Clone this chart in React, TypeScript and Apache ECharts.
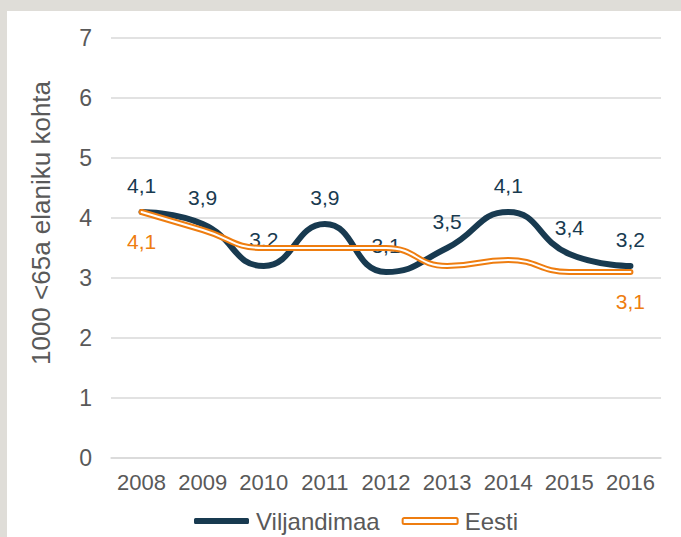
import React, { useEffect, useRef } from "react";
import * as echarts from "echarts";

const years = ["2008", "2009", "2010", "2011", "2012", "2013", "2014", "2015", "2016"];
const viljandimaa = [4.1, 3.9, 3.2, 3.9, 3.1, 3.5, 4.1, 3.4, 3.2];
const eesti = [4.1, 3.8, 3.5, 3.5, 3.5, 3.2, 3.3, 3.1, 3.1];
const yTicks = [0, 1, 2, 3, 4, 5, 6, 7];
const yTitle = "1000 <65a elaniku kohta";

const NAVY = "#183a50";
const ORANGE = "#ee7d10";
const GREY = "#595959";
const FONT = "Liberation Sans, Arial, sans-serif";

const fmt = (v: number) => v.toFixed(1).replace(".", ",");

export default function App() {
  const ref = useRef<HTMLDivElement>(null);
  useEffect(() => {
    if (!ref.current) return;
    const chart = echarts.init(ref.current, null, { renderer: "svg" });
    const last = eesti.length - 1;
    chart.setOption({
      animation: false,
      textStyle: { fontFamily: FONT },
      grid: { left: 104, right: 20, top: 27, bottom: 79, containLabel: false },
      xAxis: {
        type: "category",
        data: years,
        boundaryGap: true,
        axisLine: { show: true, lineStyle: { color: "#d9d9d9", width: 1.5 } },
        axisTick: { show: false },
        axisLabel: {
          color: GREY,
          fontSize: 22,
          margin: 13,
          fontFamily: FONT,
          interval: 0,
          hideOverlap: false,
        },
      },
      yAxis: {
        type: "value",
        min: yTicks[0],
        max: yTicks[yTicks.length - 1],
        interval: 1,
        axisLine: { show: false },
        axisTick: { show: false },
        axisLabel: { color: GREY, fontSize: 23, margin: 19, fontFamily: FONT },
        splitLine: { lineStyle: { color: "#d9d9d9", width: 1.5 } },
      },
      legend: {
        left: 182,
        top: 493,
        itemWidth: 55,
        itemHeight: 6,
        itemGap: 22,
        textStyle: { color: GREY, fontSize: 24, fontFamily: FONT, padding: [0, 0, 0, 2] },
        data: [
          { name: "Viljandimaa", icon: "roundRect", itemStyle: { color: NAVY, borderWidth: 0 } },
          {
            name: "Eesti",
            icon: "roundRect",
            itemStyle: { color: "#ffffff", borderColor: ORANGE, borderWidth: 2 },
          },
        ],
      },
      graphic: [
        {
          type: "text",
          x: 34,
          y: 212,
          rotation: Math.PI / 2,
          style: {
            text: yTitle,
            fill: GREY,
            fontSize: 26,
            fontFamily: FONT,
            align: "center",
            verticalAlign: "middle",
          },
        },
      ],
      series: [
        {
          name: "Viljandimaa",
          type: "line",
          data: viljandimaa,
          smooth: 0.5,
          symbol: "circle",
          symbolSize: 1,
          itemStyle: { color: NAVY },
          lineStyle: { color: NAVY, width: 6, cap: "round" },
          label: {
            show: true,
            position: "top",
            distance: 16,
            color: NAVY,
            fontSize: 21,
            fontFamily: FONT,
            formatter: (p: any) => fmt(p.value),
          },
          z: 2,
        },
        {
          name: "Eesti",
          type: "line",
          data: eesti.map((v, i) => ({
            value: v,
            label: { show: i === 0 || i === last },
          })),
          smooth: 0.5,
          symbol: "circle",
          symbolSize: 1,
          itemStyle: { color: ORANGE },
          lineStyle: { color: ORANGE, width: 6, cap: "round" },
          label: {
            show: false,
            position: "bottom",
            distance: 18,
            color: ORANGE,
            fontSize: 21,
            fontFamily: FONT,
            formatter: (p: any) => fmt(p.value),
          },
          z: 3,
        },
        {
          name: "EestiInner",
          type: "line",
          data: eesti,
          smooth: 0.5,
          symbol: "none",
          silent: true,
          lineStyle: { color: "#ffffff", width: 2, cap: "round" },
          z: 4,
        },
      ],
    });
    return () => chart.dispose();
  }, []);

  return (
    <div
      style={{
        position: "fixed",
        left: 0,
        top: 0,
        width: 681,
        height: 537,
        background: "#dfddd8",
      }}
    >
      <div
        ref={ref}
        style={{
          position: "absolute",
          left: 7,
          top: 11,
          width: 674,
          height: 526,
          background: "#ffffff",
        }}
      />
    </div>
  );
}
